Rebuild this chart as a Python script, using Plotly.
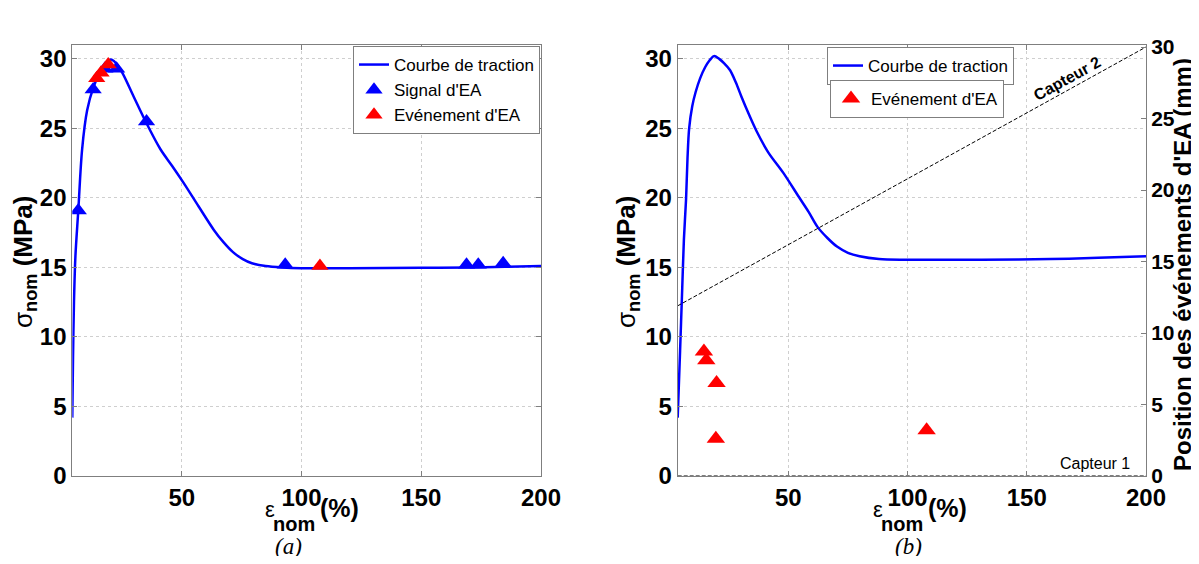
import plotly.graph_objects as go

# ---------------- data ----------------
# (a) tensile curve
strain_a = [4.3, 4.6, 5.0, 5.6, 6.8, 8.4, 10.5, 13.2, 15.2, 17.2, 20.4, 22.5, 25.2, 29.9, 35.2,
            41.1, 46.0, 50.7, 57.0, 63.4, 67.5, 71.4, 75.5, 79.3, 85.0, 92.0, 100, 120, 150, 170, 185, 200]
stress_a = [4.2, 8.5, 12.5, 15.8, 19.1, 23.5, 26.3, 28.0, 28.8, 29.4, 29.95, 29.7, 29.0, 27.3, 25.4,
            23.5, 22.3, 21.1, 19.4, 17.7, 16.8, 16.1, 15.6, 15.3, 15.1, 15.0, 14.95, 14.95, 14.97, 15.0, 15.05, 15.1]
# (a) AE signals
signal_x = [6.8, 13.0, 17.9, 22.8, 35.3, 93.2, 168.9, 173.8, 184.2]
signal_y = [19.1, 27.8, 29.3, 29.3, 25.5, 15.2, 15.2, 15.2, 15.3]
# (a) AE events
event_a_x = [14.5, 16.3, 19.3, 107.7]
event_a_y = [28.6, 29.0, 29.6, 15.1]

# (b) tensile curve
strain_b = [3.6, 4.6, 5.5, 6.2, 7.1, 7.7, 8.4, 9.7, 11.1, 13.0, 15.1, 17.0, 18.8, 21.0, 23.0, 25.5,
            28.0, 30.3, 33.5, 36.7, 41.5, 47.9, 54.3, 58.5, 62.3, 66.5, 70.4, 75.0, 79.9, 88.0, 99.2,
            120, 131, 160, 180, 200]
stress_b = [4.2, 9.0, 13.5, 17.0, 19.9, 22.8, 25.0, 26.6, 27.6, 28.6, 29.4, 29.9, 30.2, 30.0, 29.7, 29.2,
            28.3, 27.3, 26.0, 24.8, 23.3, 21.8, 20.1, 19.0, 17.9, 17.1, 16.5, 16.05, 15.8, 15.6, 15.55,
            15.55, 15.55, 15.6, 15.7, 15.8]
# (b) AE events: localisation (mm)
event_b_x = [14.6, 15.6, 19.9, 19.6, 108.0]
event_b_pos = [8.7, 8.1, 6.5, 2.6, 3.2]
# sensors
capteur2_x = [3.6, 200]
capteur2_pos = [11.9, 30]
capteur1_x = [3.6, 200]
capteur1_pos = [0, 0]

x_ticks = [50, 100, 150, 200]
y_ticks = [0, 5, 10, 15, 20, 25, 30]

# ---------------- layout helpers ----------------
# the page body adds an 8 px margin: figure = window - 16 px, coordinates shifted by 8 px
PAD = 8
W, H = 1199 - 2 * PAD, 564 - 2 * PAD
def fx(px):
    return (px - PAD) / W
def fy(py):
    return 1 - (py - PAD) / H

NARROW = "Liberation Sans Narrow, Liberation Sans, Arial, sans-serif"
SANS = "Liberation Sans, Arial, DejaVu Sans, sans-serif"
SERIF = "Liberation Serif, Times New Roman, DejaVu Serif, serif"
BLUE = "#0000ff"
RED = "#ff0000"
AXC = "#7f7f7f"
GRID = "#cfcfcf"

fig = go.Figure()

# (a)
fig.add_trace(go.Scatter(x=strain_a, y=stress_a, mode="lines", name="Courbe de traction",
                         line=dict(color=BLUE, width=2.5, shape="spline", smoothing=0.9),
                         xaxis="x", yaxis="y", legend="legend"))
fig.add_trace(go.Scatter(x=signal_x, y=signal_y, mode="markers", name="Signal d'EA",
                         marker=dict(symbol="triangle-up", color=BLUE, size=15),
                         xaxis="x", yaxis="y", legend="legend"))
fig.add_trace(go.Scatter(x=event_a_x, y=event_a_y, mode="markers", name="Evénement d'EA",
                         marker=dict(symbol="triangle-up", color=RED, size=15),
                         xaxis="x", yaxis="y", legend="legend"))

# (b)
fig.add_trace(go.Scatter(x=capteur2_x, y=capteur2_pos, mode="lines", showlegend=False,
                         line=dict(color="black", width=1, dash="4px,2px"),
                         xaxis="x2", yaxis="y3"))
fig.add_trace(go.Scatter(x=capteur1_x, y=capteur1_pos, mode="lines", showlegend=False,
                         line=dict(color="black", width=1.2, dash="4px,2px"), cliponaxis=False,
                         xaxis="x2", yaxis="y3"))
fig.add_trace(go.Scatter(x=strain_b, y=stress_b, mode="lines", name="Courbe de traction",
                         line=dict(color=BLUE, width=2.5, shape="spline", smoothing=0.9),
                         xaxis="x2", yaxis="y2", legend="legend2"))
fig.add_trace(go.Scatter(x=event_b_x, y=event_b_pos, mode="markers", name="Evénement d'EA",
                         marker=dict(symbol="triangle-up", color=RED, size=16),
                         xaxis="x2", yaxis="y3", legend="legend3"))

tickfont = dict(family=NARROW, size=24, color="black", weight="bold")
tickfont_r = dict(family=NARROW, size=21, color="black", weight="bold")

def xax(domain, rng, anchor):
    return dict(domain=domain, range=rng, anchor=anchor, tickmode="array", tickvals=x_ticks,
                ticktext=[str(v) for v in x_ticks], ticks="inside", ticklen=5, tickcolor=AXC,
                showline=True, linecolor=AXC, linewidth=1, mirror="ticks",
                showgrid=True, gridcolor=GRID, griddash="dot", gridwidth=1,
                zeroline=False, tickfont=tickfont, automargin=False)

def yax(domain, rng, anchor, mirror="ticks", grid=True, side="left", font=tickfont):
    return dict(domain=domain, range=rng, anchor=anchor, tickmode="array", tickvals=y_ticks,
                ticktext=[str(v) for v in y_ticks], ticks="inside", ticklen=5, tickcolor=AXC,
                showline=True, linecolor=AXC, linewidth=1, mirror=mirror, side=side,
                showgrid=grid, gridcolor=GRID, griddash="dot", gridwidth=1,
                zeroline=False, tickfont=font, automargin=False)

XA = [fx(72.3), fx(541)]
XB = [fx(677.7), fx(1146)]
YD = [fy(476), fy(45)]

legfont = dict(family=NARROW, size=17, color="black")

fig.update_layout(
    width=W, height=H, autosize=False,
    margin=dict(l=0, r=0, t=0, b=0),
    paper_bgcolor="white", plot_bgcolor="white",
    xaxis=xax(XA, [4.3, 200], "y"),
    yaxis=yax(YD, [0, 31], "x"),
    xaxis2=xax(XB, [3.6, 200], "y2"),
    yaxis2=yax(YD, [0, 31], "x2", mirror=False),
    yaxis3=dict(yax(YD, [0, 30.14], "x2", mirror=False, grid=False, side="right", font=tickfont_r),
                overlaying="y2"),
    legend=dict(x=fx(540), y=fy(46), xanchor="right", yanchor="top", bgcolor="white",
                bordercolor=AXC, borderwidth=1, font=legfont, itemwidth=30, tracegroupgap=0),
    legend2=dict(x=fx(1014), y=fy(47), xanchor="right", yanchor="top", bgcolor="white",
                 bordercolor=AXC, borderwidth=1, font=legfont, itemwidth=30),
    legend3=dict(x=fx(1004), y=fy(80), xanchor="right", yanchor="top", bgcolor="white",
                 bordercolor=AXC, borderwidth=1, font=legfont, itemwidth=30),
    showlegend=True,
)

ann = []
def add_text(px, py, text, font, angle=0, xanchor="center", yanchor="middle"):
    ann.append(dict(x=fx(px), y=fy(py), xref="paper", yref="paper", text=text, showarrow=False,
                    font=font, textangle=angle, xanchor=xanchor, yanchor=yanchor))

# x-axis titles: epsilon_nom (%) around the 100 tick
for c100 in (301, 909):
    add_text(c100 - 31, 509, "ε", dict(family=SANS, size=22, color="black"))
    add_text(c100 - 7, 524, "nom", dict(family=NARROW, size=20, color="black", weight="bold"))
    add_text(c100 + 38, 508, "(%)", dict(family=NARROW, size=25, color="black", weight="bold"))

# y-axis titles
ytitle = "σ<sub><b>nom</b></sub> <b>(MPa)</b>"
add_text(25, 262, ytitle, dict(family=SANS, size=26, color="black"), angle=-90)
add_text(628, 262, ytitle, dict(family=SANS, size=26, color="black"), angle=-90)
# right axis title
add_text(1182, 265, "<b>Position des événements d'EA (mm)</b>", dict(family=SANS, size=24, color="black"), angle=-90)

# sensor labels
add_text(1067, 78, "Capteur 2", dict(family=NARROW, size=16, color="black", weight="bold"), angle=-29)
add_text(1095, 463, "Capteur 1", dict(family=NARROW, size=16, color="black"))

# captions
add_text(288, 546, "<i>(a)</i>", dict(family=SERIF, size=23, color="black"))
add_text(908, 546, "<i>(b)</i>", dict(family=SERIF, size=23, color="black"))

fig.update_layout(annotations=ann)

fig.write_html("out.html")
